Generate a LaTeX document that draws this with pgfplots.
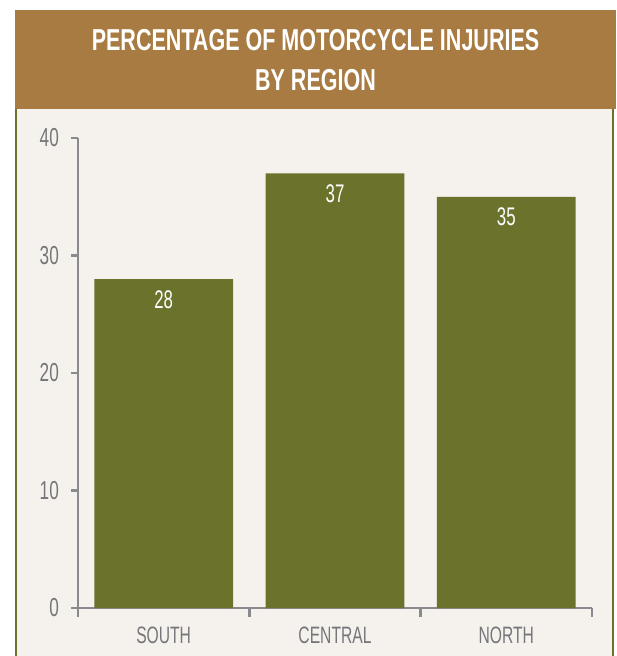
\documentclass[border=0pt]{standalone}
\usepackage{pgfplots}
\pgfplotsset{compat=1.18}
\usepackage{fontspec}
\setmainfont{Liberation Sans}[FakeStretch=0.66]
\newfontfamily\titlefont{Liberation Sans}[FakeStretch=0.71,UprightFont=*,BoldFont=* Bold]

\definecolor{band}{RGB}{168,123,66}
\definecolor{cream}{RGB}{245,242,237}
\definecolor{olive}{RGB}{107,114,44}
\definecolor{axisgray}{RGB}{138,138,142}
\definecolor{labelgray}{RGB}{118,118,122}

\pgfplotsset{/pgf/number format/assume math mode=true}

\begin{document}
\begin{tikzpicture}[x=1pt,y=1pt]
% page frame (image coordinates: y measured from top, 656 tall)
\path[use as bounding box, fill=white] (0,0) rectangle (616,656);
\fill[cream] (15,0) rectangle (614,548);
\fill[olive] (15,0) rectangle (17,548);
\fill[olive] (612,0) rectangle (614,548);
\fill[band] (15,547) rectangle (616,646);
\node[anchor=base, text=white, inner sep=0pt, font=\titlefont\bfseries\fontsize{30.3}{40}\selectfont]
  at (315.5,605) {PERCENTAGE OF MOTORCYCLE INJURIES};
\node[anchor=base, text=white, inner sep=0pt, font=\titlefont\bfseries\fontsize{30.3}{40}\selectfont]
  at (315.5,565) {BY REGION};

\begin{axis}[
  at={(78pt,48pt)}, anchor=south west,
  scale only axis, width=514pt, height=470pt,
  xmin=-0.5, xmax=2.5, ymin=0, ymax=40,
  axis x line*=bottom, axis y line*=left,
  axis line style={draw=axisgray, line width=2.6pt},
  every outer x axis line/.append style={draw=axisgray, line width=2.6pt},
  every outer y axis line/.append style={draw=axisgray, line width=2.6pt},
  every tick/.style={draw=axisgray, line width=2.4pt},
  tick align=outside,
  ytick={0,10,20,30,40},
  y tick label style={font=\fontsize{26}{28}\selectfont, text=labelgray, inner sep=0pt, anchor=east, xshift=-12pt},
  xtick={0,1,2},
  xticklabels={SOUTH,CENTRAL,NORTH},
  x tick label style={font=\fontsize{23.7}{26}\selectfont, text=labelgray, inner sep=0pt, anchor=north, yshift=-12pt},
  major tick length=7pt,
  xtick style={draw=none},
  extra x ticks={-0.5,0.5,1.5,2.5},
  extra x tick labels={},
  extra x tick style={major tick length=9pt, xtick style={draw=axisgray, line width=2.4pt}},
  ybar, bar width=0.81,
  nodes near coords,
  nodes near coords style={font=\fontsize{25.5}{28}\selectfont, text=white, anchor=north, inner sep=0pt, yshift=-11pt},
  clip=false,
]
\addplot[fill=olive, draw=none] coordinates {(0,28) (1,37) (2,35)};
\end{axis}
\end{tikzpicture}
\end{document}
